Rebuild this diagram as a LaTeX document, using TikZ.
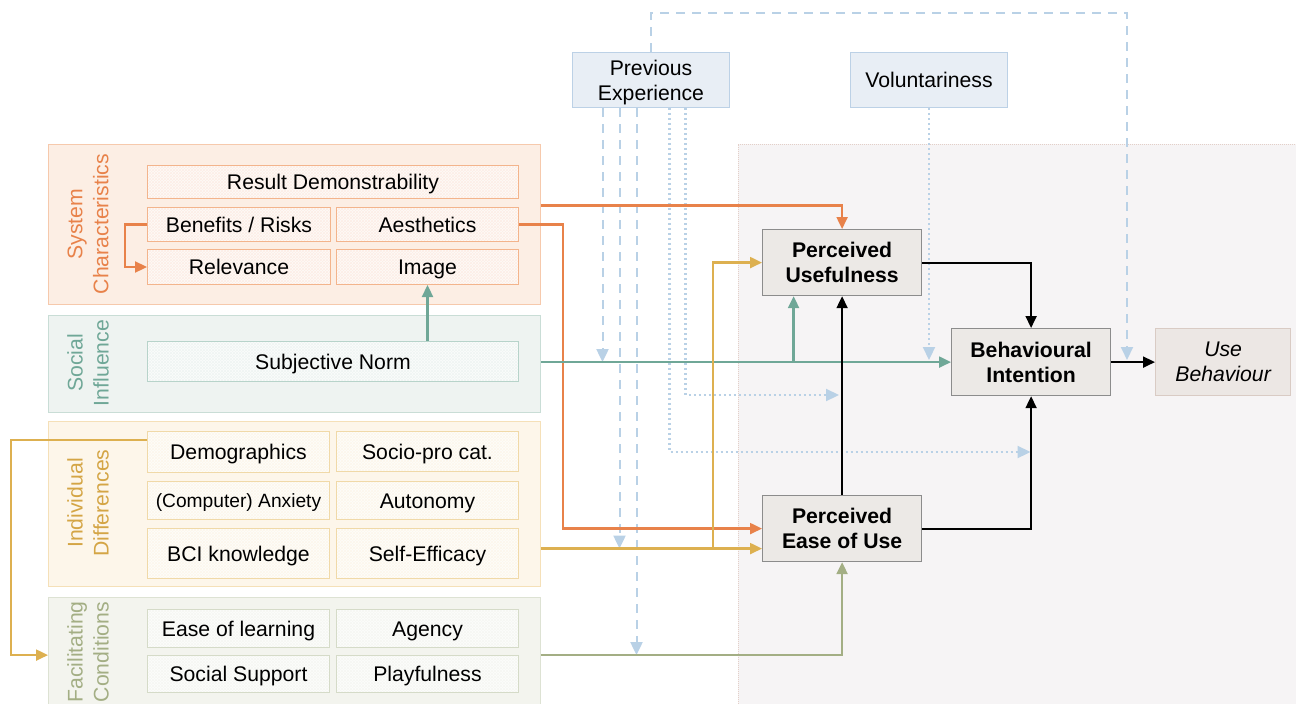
\documentclass[tikz,border=0pt]{standalone}
\usepackage{fontspec}
\setmainfont{Liberation Sans}
\usetikzlibrary{arrows.meta,patterns}
\definecolor{scO}{HTML}{E8824A}
\definecolor{scF}{HTML}{FCEEE4}
\definecolor{scB}{HTML}{F6C9AC}
\definecolor{scI}{HTML}{F3B48C}
\definecolor{siT}{HTML}{6FA797}
\definecolor{siF}{HTML}{EEF3F1}
\definecolor{siB}{HTML}{C9DDD6}
\definecolor{siI}{HTML}{B7D3CA}
\definecolor{idG}{HTML}{DDB050}
\definecolor{idL}{HTML}{D4A545}
\definecolor{idF}{HTML}{FDF6EA}
\definecolor{idB}{HTML}{F5E0B8}
\definecolor{idI}{HTML}{F0D9A8}
\definecolor{fcO}{HTML}{A3AE84}
\definecolor{fcF}{HTML}{F3F4EE}
\definecolor{fcB}{HTML}{DDE2D3}
\definecolor{fcI}{HTML}{D5DBC8}
\definecolor{lb}{HTML}{B9D1E6}
\definecolor{peF}{HTML}{E8EEF5}
\definecolor{peB}{HTML}{BCD1E6}
\definecolor{rgF}{HTML}{F6F4F5}
\definecolor{rgB}{HTML}{E3CFC8}
\definecolor{mainF}{HTML}{ECE9E6}
\definecolor{mainB}{HTML}{8C8C8C}
\definecolor{ubF}{HTML}{ECE7E4}
\definecolor{ubB}{HTML}{D9CBC4}
\begin{document}
\begin{tikzpicture}[x=1pt,y=-1pt,
  grp/.style={draw=#1, line width=1.2pt, anchor=north west, inner sep=0pt},
  inbox/.style={draw=#1, line width=1pt, anchor=north west, inner sep=0pt,
     preaction={fill=#1!6}, pattern=crosshatch, pattern color=#1!22,
     text height=15pt, text depth=0pt,
     font=\fontsize{21.2}{25}\selectfont},
  glab/.style={rotate=90, align=center, font=\fontsize{21.2}{26}\selectfont},
  mainbox/.style={draw=mainB, fill=mainF, line width=1.2pt, anchor=north west,
     inner sep=0pt, align=center, font=\fontsize{21.2}{25}\selectfont\bfseries},
  topbox/.style={draw=peB, fill=peF, line width=1pt, anchor=north west,
     inner sep=0pt, align=center, text depth=0pt, font=\fontsize{21.2}{25}\selectfont},
  tip/.style={-{Triangle[length=12pt,width=11pt]}},
  cl/.style={draw=#1, line width=2.3pt, tip},
  bl/.style={draw=black, line width=2pt, tip},
  bdash/.style={draw=lb, line width=2pt, dash pattern=on 9pt off 7pt,
     -{Triangle[length=13pt,width=12pt]}},
  bdot/.style={draw=lb, line width=2.2pt, dash pattern=on 2pt off 3pt,
     -{Triangle[length=13pt,width=12pt]}}
]
\useasboundingbox (0,0) rectangle (1296,704);
% background region
\fill[rgF] (738,144) rectangle (1296,704);
\draw[rgB, line width=0.8pt, dash pattern=on 1pt off 1pt] (738,704) -- (738,144) -- (1296,144);

% groups
\node[grp=scB, fill=scF, minimum width=492pt, minimum height=160pt] (sc) at (48,144) {};
\node[grp=siB, fill=siF, minimum width=492pt, minimum height=97pt] (si) at (48,315) {};
\node[grp=idB, fill=idF, minimum width=492pt, minimum height=165pt] (id) at (48,421) {};
\node[grp=fcB, fill=fcF, minimum width=492pt, minimum height=115pt] (fc) at (48,597) {};

\node[glab, text=scO] (scl) at (88,224) {System\\Characteristics};
\node[glab, text=siT] (sil) at (88,363) {Social\\Influence};
\node[glab, text=idL] (idl) at (88,503) {Individual\\Differences};
\node[glab, text=fcO] (fcl) at (88,652) {Facilitating\\Conditions};

% inner boxes
\node[inbox=scI, minimum width=371pt, minimum height=33pt] (rd) at (147,165) {Result Demonstrability};
\node[inbox=scI, minimum width=183pt, minimum height=34pt] (br) at (147,207) {Benefits / Risks};
\node[inbox=scI, minimum width=182pt, minimum height=34pt] (aes) at (336,207) {Aesthetics};
\node[inbox=scI, minimum width=183pt, minimum height=35pt] (rel) at (147,249) {Relevance};
\node[inbox=scI, minimum width=182pt, minimum height=35pt] (img) at (336,249) {Image};

\node[inbox=siI, minimum width=371pt, minimum height=40pt] (sn) at (147,341) {Subjective Norm};

\node[inbox=idI, minimum width=182pt, minimum height=41pt] (dem) at (147,431) {Demographics};
\node[inbox=idI, minimum width=182pt, minimum height=40pt] (spc) at (336,431) {Socio-pro cat.};
\node[inbox=idI, minimum width=182pt, minimum height=38pt, font=\fontsize{19.2}{23}\selectfont, text height=14pt] (anx) at (147,481) {(Computer) Anxiety};
\node[inbox=idI, minimum width=182pt, minimum height=38pt] (aut) at (336,481) {Autonomy};
\node[inbox=idI, minimum width=182pt, minimum height=50pt] (bci) at (147,528) {BCI knowledge};
\node[inbox=idI, minimum width=182pt, minimum height=50pt] (se) at (336,528) {Self-Efficacy};

\node[inbox=fcI, minimum width=182pt, minimum height=38pt] (eol) at (147,609) {Ease of learning};
\node[inbox=fcI, minimum width=182pt, minimum height=38pt] (ag) at (336,609) {Agency};
\node[inbox=fcI, minimum width=182pt, minimum height=37pt] (ss) at (147,655) {Social Support};
\node[inbox=fcI, minimum width=182pt, minimum height=37pt] (pf) at (336,655) {Playfulness};

% top boxes
\node[topbox, minimum width=157pt, minimum height=55pt] (pe) at (572,52) {Previous\\Experience};
\node[topbox, minimum width=157pt, minimum height=55pt] (vol) at (850,52) {Voluntariness};

% main boxes
\node[mainbox, minimum width=159pt, minimum height=66pt] (pu) at (762,229) {Perceived\\Usefulness};
\node[mainbox, minimum width=159pt, minimum height=67pt] (bi) at (951,328) {Behavioural\\Intention};
\node[mainbox, minimum width=159pt, minimum height=66pt] (peou) at (762,495) {Perceived\\Ease of Use};
\node[draw=ubB, fill=ubF, line width=1.2pt, anchor=north west, inner sep=0pt, align=center,
  minimum width=135pt, minimum height=67pt, font=\fontsize{21.2}{25}\selectfont\itshape] (ub) at (1155,328) {Use\\Behaviour};

\coordinate (ye) at ([yshift=-20pt]peou.west);
\coordinate (bu) at (1127,360);
\coordinate (d1) at (1030.5,452);
\coordinate (d2) at (839,395);

% light blue connectors (behind)
\draw[bdash] ([xshift=-48.5pt]pe.south) -- ([xshift=-48.5pt]pe.south |- bi.west);
\draw[bdash] ([xshift=-31.5pt]pe.south) -- ([xshift=-31.5pt]pe.south |- ye);
\draw[bdash] ([xshift=-14.5pt]pe.south) -- ([xshift=-14.5pt]pe.south |- fc.east);
\draw[bdot] ([xshift=18.5pt]pe.south) |- (d1);
\draw[bdot] ([xshift=34.5pt]pe.south) |- (d2);
\draw[bdash] (pe.north) |- (bu |- 0,13) -- (bu);
\draw[bdot] (vol.south) -- (vol.south |- bu);

% internal group arrows
\draw[cl=scO] (br.west) -- ++(-22,0) |- (rel.west);
\draw[cl=siT] (img.south |- sn.north) -- (img.south);
\draw[cl=idG] ([yshift=12pt]dem.west) -- ++(-136,0) |- (fc.west);

% colored connectors
\draw[cl=scO] ([yshift=19pt]sc.east) -| (pu.north);
\draw[cl=scO] (aes.east) -- ++(44,0) |- (peou.west);
\draw[cl=siT] (si.east |- bi.west) -- (bi.west);
\draw[cl=siT] ([xshift=-48.5pt]pu.south |- bi.west) -- ([xshift=-48.5pt]pu.south);
\draw[cl=idG] (id.east |- ye) -- (ye);
\draw[cl=idG] ([xshift=-49pt]ye) |- (pu.west);
\draw[cl=fcO] (fc.east) -| (peou.south);

% black connectors
\draw[bl] (peou.north) -- (pu.south);
\draw[bl] (pu.east) -| (bi.north);
\draw[bl] (peou.east) -| (bi.south);
\draw[bl] (bi.east) -- (ub.west);
\end{tikzpicture}
\end{document}
